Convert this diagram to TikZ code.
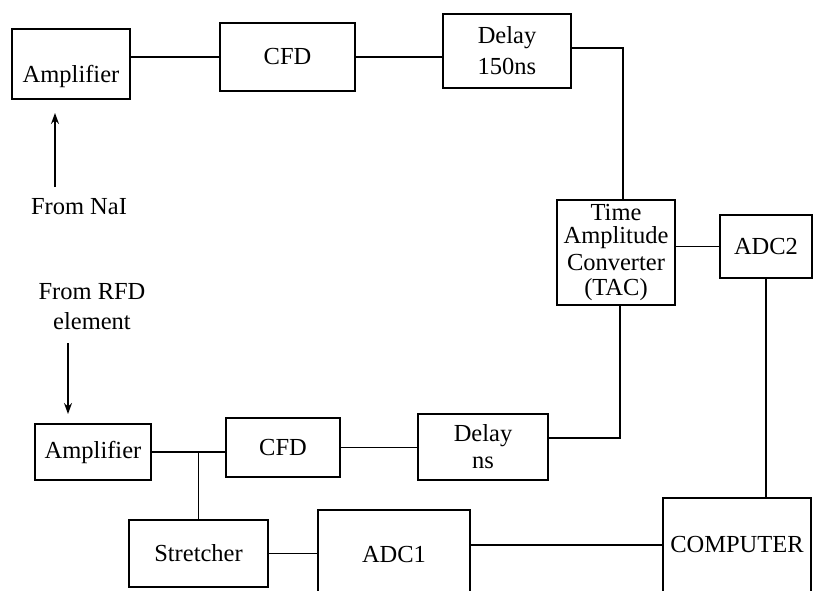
\documentclass[tikz,border=0pt]{standalone}
\usepackage{fontspec}
\setmainfont{Liberation Serif}
\usetikzlibrary{positioning,arrows.meta}

\begin{document}
\begin{tikzpicture}[x=1pt,y=-1pt,>={Stealth[length=11pt,width=8pt]},
  blk/.style={draw,line width=1.5pt,inner sep=0pt,align=center,font=\fontsize{24.5}{27}\selectfont},
  lbl/.style={align=center,font=\fontsize{24.5}{30}\selectfont},
  wire/.style={line width=1.3pt}]
\useasboundingbox (0,0) rectangle (813,591);
\clip (0,0) rectangle (813,591);
\node[blk,minimum width=118,minimum height=70,text height=43pt,text depth=5pt] (ampA) at (71,64) {Amplifier};
\node[blk,minimum width=135,minimum height=68] (cfdA) at (287.5,57) {CFD};
\node[blk,minimum width=128,minimum height=74] (delA) at (507,51) {Delay\\[4pt]150ns};
\node[blk,minimum width=118,minimum height=105] (tac) at (616,252.5) {Time\\[-4pt]Amplitude\\Converter\\[-2pt](TAC)};
\node[blk,minimum width=92,minimum height=63] (adcB) at (766,246.5) {ADC2};
\node[blk,minimum width=116,minimum height=56] (ampB) at (93,452) {Amplifier};
\node[blk,minimum width=114,minimum height=59] (cfdB) at (283,447.5) {CFD};
\node[blk,minimum width=130,minimum height=66] (delB) at (483,447) {Delay\\ns};
\node[blk,minimum width=139,minimum height=67] (str) at (198.5,553.5) {Stretcher};
\node[blk,minimum width=152,minimum height=90] (adcA) at (394,555) {ADC1};
\node[blk,minimum width=148,minimum height=94] (comp) at (737,545) {COMPUTER};
\node[lbl] (naI) at (79,207) {From NaI};
\node[lbl] (rfd) at (92,307) {From RFD\\element};
\coordinate (srcA) at (55,187);
\coordinate (inA) at (55,113);
\coordinate (srcB) at (68,343);
\coordinate (inB) at (68,414);
\coordinate (jn) at (str.north |- ampB.east);
\draw[wire,->] (srcA) -- (inA);
\draw[wire,->] (srcB) -- (inB);
\draw[wire] (ampA.east |- cfdA.west) -- (cfdA.west);
\draw[wire] (cfdA.east) -- (delA.west |- cfdA.east);
\draw[wire] ([yshift=3pt]delA.east) -| ([xshift=7pt]tac.north);
\draw[wire] (tac.east |- adcB.west) -- (adcB.west);
\draw[wire] (adcB.south) -- (adcB.south |- comp.north);
\draw[wire] (ampB.east) -- (ampB.east -| cfdB.west);
\draw[wire] (jn) -- (str.north);
\draw[wire] (cfdB.east) -- (delB.west |- cfdB.east);
\draw[wire] ([yshift=9pt]delB.east) -| ([xshift=4pt]tac.south);
\draw[wire] (str.east) -- (adcA.west |- str.east);
\draw[wire] (comp.west -| adcA.east) -- (comp.west);
\end{tikzpicture}
\end{document}
